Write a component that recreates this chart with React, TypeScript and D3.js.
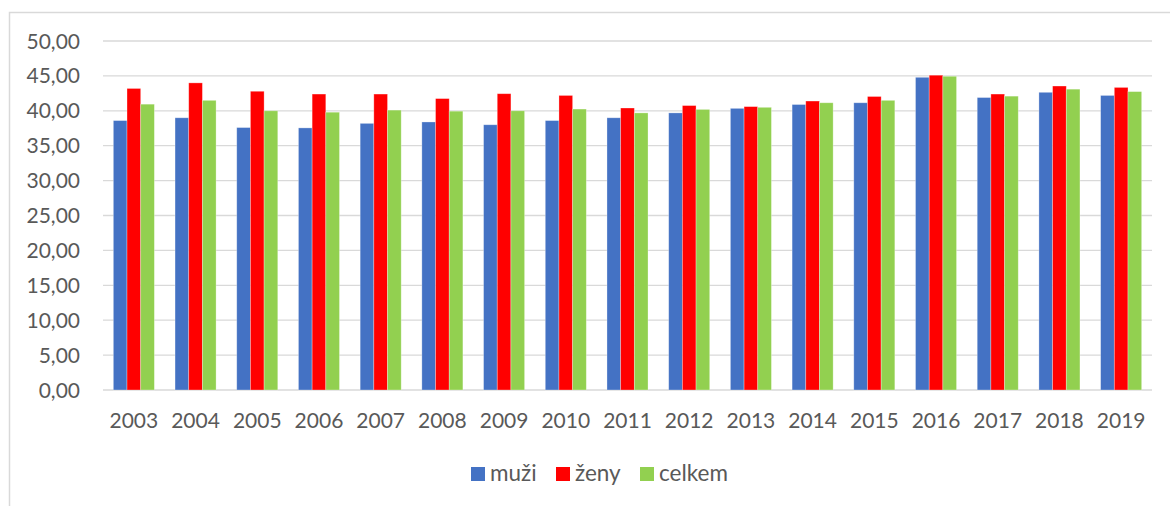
import React, { useRef, useEffect } from "react";
import * as d3 from "d3";

const years = [
  "2003", "2004", "2005", "2006", "2007", "2008", "2009", "2010", "2011",
  "2012", "2013", "2014", "2015", "2016", "2017", "2018", "2019",
];
const muzi = [38.6, 39.0, 37.6, 37.55, 38.2, 38.4, 38.0, 38.6, 39.0, 39.7, 40.35, 40.9, 41.15, 44.8, 41.9, 42.65, 42.2];
const zeny = [43.2, 44.0, 42.8, 42.4, 42.4, 41.75, 42.45, 42.2, 40.4, 40.75, 40.6, 41.4, 42.05, 45.1, 42.4, 43.55, 43.35];
const celkem = [40.95, 41.5, 40.0, 39.8, 40.1, 39.95, 40.0, 40.25, 39.7, 40.2, 40.5, 41.15, 41.5, 44.95, 42.1, 43.1, 42.75];
const yTicks = [0, 5, 10, 15, 20, 25, 30, 35, 40, 45, 50];

const series = [
  { name: "muži", values: muzi, color: "#4472c4" },
  { name: "ženy", values: zeny, color: "#ff0000" },
  { name: "celkem", values: celkem, color: "#92d050" },
];

const App = () => {
  const ref = useRef<SVGSVGElement>(null);

  useEffect(() => {
    const width = 1170;
    const height = 506;
    const margin = { top: 41, left: 103, right: 18, bottom: 116 };
    const svg = d3.select(ref.current);
    svg.selectAll("*").remove();

    const font = "Lato, 'Open Sans', sans-serif";
    const textColor = "#595959";
    const gridColor = "#d9d9d9";

    // chart frame
    svg
      .append("rect")
      .attr("x", 9.5)
      .attr("y", 12.5)
      .attr("width", width + 20)
      .attr("height", height + 20)
      .attr("fill", "#fff")
      .attr("stroke", gridColor)
      .attr("stroke-width", 1.5);

    const x = d3
      .scaleBand()
      .domain(years)
      .range([margin.left, width - margin.right])
      .paddingInner(0.335)
      .paddingOuter(0.1675);
    const x1 = d3
      .scaleBand()
      .domain(series.map((s) => s.name))
      .range([0, x.bandwidth()]);
    const y = d3
      .scaleLinear()
      .domain([0, 50])
      .range([height - margin.bottom, margin.top]);

    // gridlines
    svg
      .append("g")
      .selectAll("line")
      .data(yTicks)
      .enter()
      .append("line")
      .attr("x1", margin.left)
      .attr("x2", width - margin.right)
      .attr("y1", (d) => y(d))
      .attr("y2", (d) => y(d))
      .attr("stroke", gridColor)
      .attr("stroke-width", 1.3);

    // y labels
    svg
      .append("g")
      .selectAll("text")
      .data(yTicks)
      .enter()
      .append("text")
      .attr("x", 80)
      .attr("y", (d) => y(d))
      .attr("dy", "0.36em")
      .attr("text-anchor", "end")
      .style("font-family", font)
      .style("font-size", "21px")
      .style("fill", textColor)
      .text((d) => d.toFixed(2).replace(".", ","));

    // bars
    series.forEach((s) => {
      svg
        .append("g")
        .selectAll("rect")
        .data(s.values)
        .enter()
        .append("rect")
        .attr("x", (_, i) => (x(years[i]) as number) + (x1(s.name) as number))
        .attr("y", (d) => y(d))
        .attr("width", x1.bandwidth())
        .attr("height", (d) => y(0) - y(d))
        .attr("fill", s.color)
        .attr("stroke", "#fff")
        .attr("stroke-opacity", 0.4)
        .attr("stroke-width", 0.75);
    });

    // x labels
    svg
      .append("g")
      .selectAll("text")
      .data(years)
      .enter()
      .append("text")
      .attr("x", (d) => (x(d) as number) + x.bandwidth() / 2)
      .attr("y", 428)
      .attr("text-anchor", "middle")
      .style("font-family", font)
      .style("font-size", "21px")
      .style("fill", textColor)
      .text((d) => d);

    // legend
    const legendX = [471, 556, 640];
    series.forEach((s, i) => {
      svg
        .append("rect")
        .attr("x", legendX[i])
        .attr("y", 467)
        .attr("width", 14)
        .attr("height", 14)
        .attr("fill", s.color);
      svg
        .append("text")
        .attr("x", legendX[i] + 19)
        .attr("y", 481)
        .style("font-family", font)
        .style("font-size", "22.5px")
        .style("fill", textColor)
        .text(s.name);
    });
  }, []);

  return (
    <svg
      ref={ref}
      width={1170}
      height={506}
      style={{ position: "absolute", left: 0, top: 0, background: "#fff" }}
    />
  );
};

export default App;
